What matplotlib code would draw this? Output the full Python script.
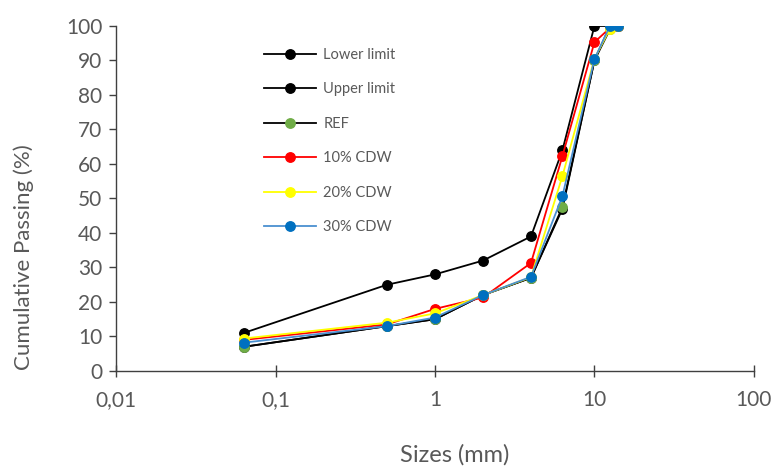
import matplotlib
matplotlib.use("Agg")
import matplotlib.pyplot as plt

sizes = [0.063, 0.5, 1, 2, 4, 6.3, 10, 12.5, 14]
lower_limit = [7, 13, 15, 22, 27, 47, 90, 100, 100]
upper_limit = [11, 25, 28, 32, 39, 64, 100, 100, 100]
ref = [7, 13, 15, 22, 27, 47.5, 90, 99, 100]
cdw10 = [9, 13.5, 18, 21.3, 31.3, 62.3, 95.3, 99.4, 100]
cdw20 = [9.4, 14, 16.7, 22, 27.2, 56.5, 90.5, 99.2, 100]
cdw30 = [8.2, 13, 15.5, 22, 27.3, 50.7, 90.4, 100, 100]

xticks = [0.01, 0.1, 1, 10, 100]
xticklabels = ["0,01", "0,1", "1", "10", "100"]
yticks = list(range(0, 101, 10))

plt.rcParams['font.family'] = ['Lato', 'DejaVu Sans']
gray = '#595959'

fig = plt.figure(figsize=(7.74, 4.69), dpi=100)
ax = fig.add_axes([0.150, 0.209, 0.824, 0.7356])

ms = 6.8
lw = 1.3
series = [
    ("Lower limit", lower_limit, 'black', 'black'),
    ("Upper limit", upper_limit, 'black', 'black'),
    ("REF", ref, 'black', '#70AD47'),
    ("10% CDW", cdw10, '#FF0000', '#FF0000'),
    ("20% CDW", cdw20, '#FFFF00', '#FFFF00'),
    ("30% CDW", cdw30, '#4A90D0', '#0070C0'),
]
handles = []
for i, (name, vals, lc, mc) in enumerate(series):
    h, = ax.plot(sizes, vals, color=lc, lw=lw, marker='o', ms=ms,
                 markerfacecolor=mc, markeredgecolor=mc, label=name, zorder=2 + i)
    handles.append(h)

ax.set_xscale('log')
ax.set_xlim(0.01, 100)
ax.set_ylim(0, 100)
ax.set_xticks(xticks)
ax.set_xticklabels(xticklabels)
ax.xaxis.set_minor_locator(matplotlib.ticker.NullLocator())
ax.set_yticks(yticks)

for s in ['top', 'right']:
    ax.spines[s].set_visible(False)
for s in ['left', 'bottom']:
    ax.spines[s].set_color('#404040')
    ax.spines[s].set_linewidth(1.0)

ax.tick_params(axis='x', direction='inout', length=9, width=1.0, color='#404040',
               labelsize=15, labelcolor=gray, pad=9)
ax.tick_params(axis='y', direction='out', length=5, width=1.0, color='#404040',
               labelsize=15, labelcolor=gray, pad=5)

ax.set_xlabel("Sizes (mm)", fontsize=17, color=gray)
ax.xaxis.set_label_coords(0.531, -0.213)
ax.set_ylabel("Cumulative Passing (%)", fontsize=16, color=gray)
ax.yaxis.set_label_coords(-0.128, 0.33)

leg = ax.legend(handles=handles, loc='upper left', bbox_to_anchor=(0.333, 0.91),
                bbox_transform=fig.transFigure, frameon=False, fontsize=10.5,
                handlelength=3.6, labelspacing=1.40, handletextpad=0.5,
                borderaxespad=0)
for t in leg.get_texts():
    t.set_color(gray)

fig.savefig("out.png", dpi=100)
